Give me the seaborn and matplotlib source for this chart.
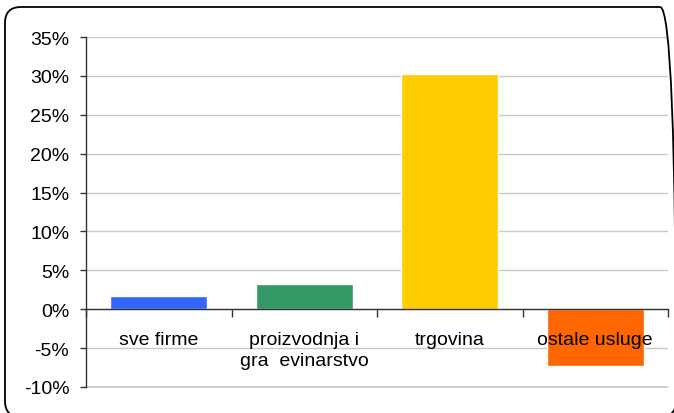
import matplotlib
matplotlib.use("Agg")
import matplotlib.pyplot as plt
import seaborn as sns
import pandas as pd
from matplotlib.patches import FancyBboxPatch
from matplotlib.ticker import FuncFormatter, FixedLocator

categories = ["sve firme", "proizvodnja i\ngra  evinarstvo", "trgovina", "ostale usluge"]
values = [1.7, 3.2, 30.3, -7.3]
colors = ["#3366FF", "#339966", "#FFCC00", "#FF6600"]
yticks = [-10, -5, 0, 5, 10, 15, 20, 25, 30, 35]

sns.set_style("white")
plt.rcParams["font.family"] = ["Liberation Sans", "DejaVu Sans"]

df = pd.DataFrame({"cat": categories, "val": values})

fig = plt.figure(figsize=(6.74, 4.14), dpi=100)
ax = fig.add_axes([86/674, 1-388/414, (668-86)/674, 350/414])

sns.barplot(data=df, x="cat", y="val", hue="cat", palette=colors, dodge=False,
            width=0.67, legend=False, ax=ax, saturation=1, zorder=2)

ax.set_ylim(-10, 35)
ax.set_xlim(-0.5, 3.5)
ax.set_yticks(yticks)
ax.yaxis.set_major_formatter(FuncFormatter(lambda v, p: f"{int(v)}%"))
ax.grid(axis="y", color="#c8c8c8", lw=1, zorder=0)
ax.set_axisbelow(True)
ax.axhline(-10, color="#c8c8c8", lw=1.2, clip_on=False, zorder=0)
ax.set_xlabel("")
ax.set_ylabel("")

for s in ["top", "right"]:
    ax.spines[s].set_visible(False)
ax.spines["left"].set_color("#333333")
ax.spines["left"].set_linewidth(1)
ax.spines["bottom"].set_position(("data", 0))
ax.spines["bottom"].set_color("#333333")
ax.spines["bottom"].set_linewidth(1)
ax.spines["bottom"].set_zorder(5)

ax.tick_params(axis="y", direction="out", length=4.5, width=1, color="#333333",
               labelsize=14, labelcolor="black", pad=7.5, left=True)
ax.set_xticks([])
ax.xaxis.set_minor_locator(FixedLocator([-0.5, 0.5, 1.5, 2.5, 3.5]))
ax.tick_params(axis="x", which="minor", direction="out", length=6, width=1,
               color="#333333", bottom=True)

for i, c in enumerate(categories):
    ax.text(i, -2.8, c, ha="center", va="top", fontsize=14, zorder=10,
            color="black", linespacing=1.3)

H = 414
border = FancyBboxPatch((5, H - 418), 671, 410,
                        boxstyle="round,pad=0,rounding_size=16",
                        transform=None, fill=False,
                        edgecolor="black", lw=1.3)
fig.patches.append(border)

fig.savefig("out.png", dpi=100)
